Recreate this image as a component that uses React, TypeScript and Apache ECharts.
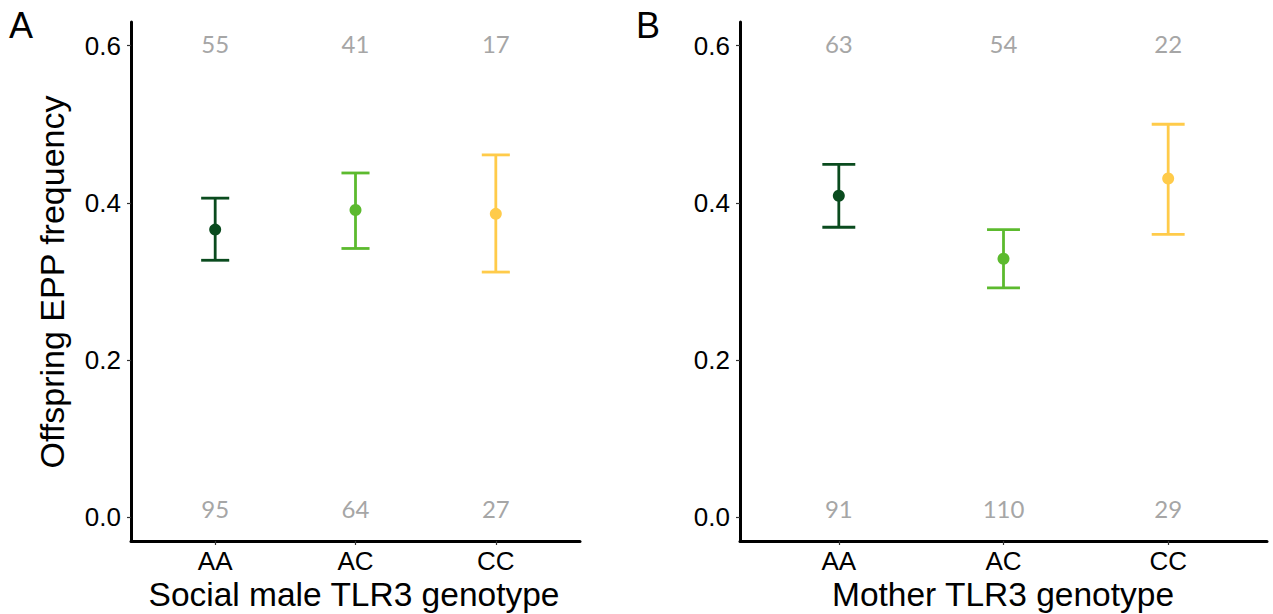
import React, { useEffect, useRef } from "react";
import * as echarts from "echarts";

const genotypes = ["AA", "AC", "CC"];
const genotypeColors = ["#0a4b1e", "#5cba2e", "#ffcb4a"];

const maleMean = [0.366, 0.391, 0.386];
const maleLower = [0.327, 0.342, 0.312];
const maleUpper = [0.406, 0.438, 0.461];
const maleTopCounts = [55, 41, 17];
const maleBottomCounts = [95, 64, 27];

const motherMean = [0.409, 0.329, 0.431];
const motherLower = [0.369, 0.292, 0.36];
const motherUpper = [0.449, 0.366, 0.5];
const motherTopCounts = [63, 54, 22];
const motherBottomCounts = [91, 110, 29];

const yTicks = [0, 0.2, 0.4, 0.6];
const topCountLevel = 0.6;
const bottomCountLevel = 0;

const AXIS_FONT = "'Liberation Sans', Arial, sans-serif";
const COUNT_FONT = "Lato, 'Open Sans', sans-serif";

function makeYAxis(gridIndex: number) {
  return {
    type: "value",
    gridIndex,
    min: -0.03,
    max: 0.63,
    axisLine: { show: true, lineStyle: { color: "#000", width: 3 } },
    axisTick: {
      show: true,
      length: 4,
      customValues: yTicks,
      lineStyle: { color: "#333", width: 1.2 },
    },
    axisLabel: {
      customValues: yTicks,
      formatter: (v: number) => v.toFixed(1),
      fontSize: 26,
      color: "#000",
      fontFamily: AXIS_FONT,
      margin: 10,
    },
    splitLine: { show: false },
  };
}

function makeXAxis(gridIndex: number) {
  return {
    type: "value",
    gridIndex,
    min: 0.4,
    max: 3.6,
    axisLine: { show: true, onZero: false, lineStyle: { color: "#000", width: 3 } },
    axisTick: {
      show: true,
      length: 4,
      customValues: [1, 2, 3],
      lineStyle: { color: "#333", width: 1.2 },
    },
    axisLabel: {
      customValues: [1, 2, 3],
      formatter: (v: number) => genotypes[Math.round(v) - 1] ?? "",
      fontSize: 26,
      color: "#000",
      fontFamily: AXIS_FONT,
      margin: 7,
    },
    splitLine: { show: false },
  };
}

function errorBarSeries(idx: number, lower: number[], upper: number[]) {
  return {
    type: "custom",
    xAxisIndex: idx,
    yAxisIndex: idx,
    data: genotypes.map((_, i) => [i + 1, lower[i], upper[i]]),
    renderItem: (params: any, api: any) => {
      const x = api.value(0);
      const lo = api.value(1);
      const hi = api.value(2);
      const top = api.coord([x, hi]);
      const bot = api.coord([x, lo]);
      const left = api.coord([x - 0.1, hi])[0];
      const right = api.coord([x + 0.1, hi])[0];
      const color = genotypeColors[params.dataIndex];
      const style = { stroke: color, lineWidth: 2.8 };
      return {
        type: "group",
        children: [
          { type: "line", shape: { x1: top[0], y1: top[1], x2: bot[0], y2: bot[1] }, style },
          { type: "line", shape: { x1: left, y1: top[1], x2: right, y2: top[1] }, style },
          { type: "line", shape: { x1: left, y1: bot[1], x2: right, y2: bot[1] }, style },
        ],
      };
    },
    z: 2,
  };
}

function pointSeries(idx: number, mean: number[]) {
  return {
    type: "scatter",
    xAxisIndex: idx,
    yAxisIndex: idx,
    symbol: "circle",
    symbolSize: 12,
    itemStyle: { opacity: 1 },
    data: genotypes.map((_, i) => ({
      value: [i + 1, mean[i]],
      itemStyle: { color: genotypeColors[i], opacity: 1 },
    })),
    z: 3,
  };
}

function countSeries(idx: number, counts: number[], level: number, offsetY: number) {
  return {
    type: "scatter",
    xAxisIndex: idx,
    yAxisIndex: idx,
    symbolSize: 0,
    itemStyle: { opacity: 1 },
    data: counts.map((c, i) => [i + 1, level, c]),
    label: {
      show: true,
      position: "inside",
      formatter: (p: any) => String(p.value[2]),
      fontSize: 24,
      color: "#a6a6a6",
      opacity: 1,
      fontFamily: COUNT_FONT,
      offset: [0, offsetY],
    },
    z: 4,
  };
}

export default function App() {
  const ref = useRef<HTMLDivElement>(null);

  useEffect(() => {
    document.body.style.margin = "0";
    if (!ref.current) return;
    const chart = echarts.init(ref.current, null, { renderer: "svg" });
    const titleStyle = {
      fontSize: 34,
      fill: "#000",
      fontFamily: AXIS_FONT,
      align: "center",
      verticalAlign: "middle",
    };
    chart.setOption({
      animation: false,
      backgroundColor: "#fff",
      grid: [
        { left: 131, top: 22, width: 449, height: 519 },
        { left: 740, top: 22, width: 527, height: 519 },
      ],
      xAxis: [makeXAxis(0), makeXAxis(1)],
      yAxis: [makeYAxis(0), makeYAxis(1)],
      series: [
        errorBarSeries(0, maleLower, maleUpper),
        pointSeries(0, maleMean),
        countSeries(0, maleTopCounts, topCountLevel, -2),
        countSeries(0, maleBottomCounts, bottomCountLevel, -9),
        errorBarSeries(1, motherLower, motherUpper),
        pointSeries(1, motherMean),
        countSeries(1, motherTopCounts, topCountLevel, -2),
        countSeries(1, motherBottomCounts, bottomCountLevel, -9),
      ],
      graphic: [
        {
          type: "text",
          x: 21,
          y: 25,
          style: { text: "A", fontSize: 36, fill: "#000", fontFamily: AXIS_FONT, align: "center", verticalAlign: "middle" },
        },
        {
          type: "text",
          x: 648,
          y: 25,
          style: { text: "B", fontSize: 36, fill: "#000", fontFamily: AXIS_FONT, align: "center", verticalAlign: "middle" },
        },
        {
          type: "text",
          x: 52,
          y: 282,
          rotation: Math.PI / 2,
          style: { ...titleStyle, text: "Offspring EPP frequency" },
        },
        {
          type: "text",
          x: 354,
          y: 594,
          style: { ...titleStyle, fontSize: 33.5, text: "Social male TLR3 genotype" },
        },
        {
          type: "text",
          x: 1003,
          y: 594,
          style: { ...titleStyle, fontSize: 33.5, text: "Mother TLR3 genotype" },
        },
      ],
    });
    return () => chart.dispose();
  }, []);

  return <div ref={ref} style={{ width: 1273, height: 614 }} />;
}
